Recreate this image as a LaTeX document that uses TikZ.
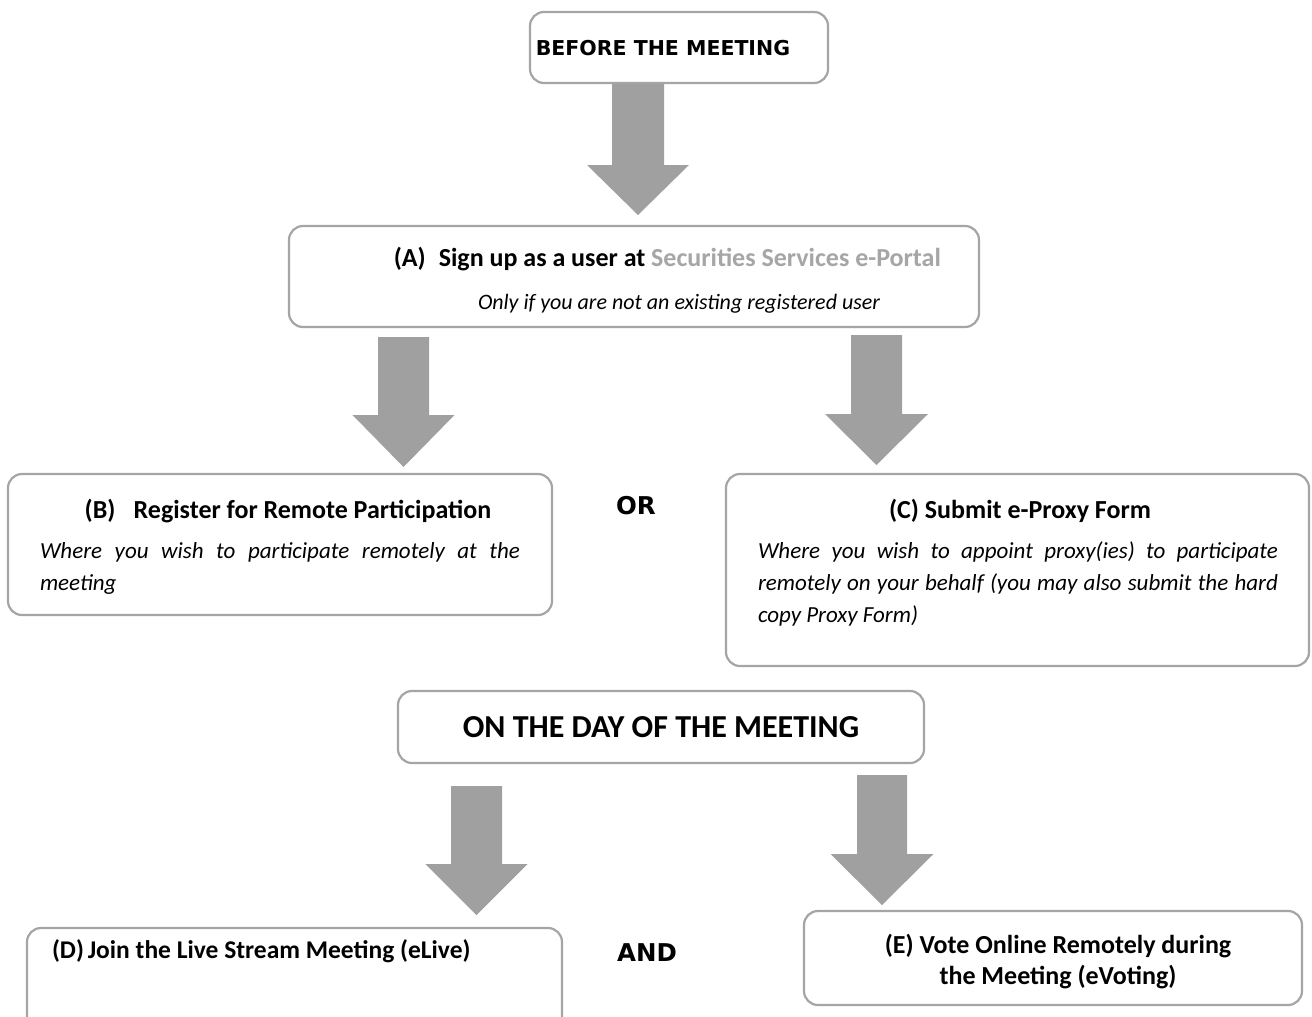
\documentclass[tikz,border=0pt]{standalone}
\usepackage{fontspec}
\setmainfont{Carlito}
\newfontfamily\verd{DejaVu Sans}
\definecolor{boxgray}{HTML}{A5A5A5}
\definecolor{arrgray}{HTML}{A0A0A0}
\definecolor{linkgray}{HTML}{A6A6A6}
\newcommand\myarrow[6]{% cx, ytop, yhead, ytip, shaft half, head half
  \fill[arrgray] (#1-#5,#2) -- (#1+#5,#2) -- (#1+#5,#3) -- (#1+#6,#3) -- (#1,#4) -- (#1-#6,#3) -- (#1-#5,#3) -- cycle;}
\tikzset{
  box/.style={draw=boxgray, line width=2.2pt, rounded corners=14pt, fill=white, inner sep=0pt, outer sep=0pt},
  txt/.style={inner sep=0pt, outer sep=0pt},
  ttl/.style={txt, font=\bfseries\fontsize{26}{31}\selectfont},
  itl/.style={txt, font=\itshape\fontsize{23}{32}\selectfont, align=justify},
  hdr/.style={txt, font=\verd\bfseries\fontsize{20.5}{24}\selectfont},
  conj/.style={txt, font=\verd\bfseries\fontsize{24.5}{28}\selectfont},
}
\begin{document}
\begin{tikzpicture}[x=1pt,y=-1pt]
\useasboundingbox (0,0) rectangle (1312,1017);
\clip (0,0) rectangle (1312,1017);
\fill[white] (0,0) rectangle (1312,1017);
% boxes
\node[box, minimum width=298pt, minimum height=71pt] (top) at (679,47.5) {};
\node[box, minimum width=690pt, minimum height=101pt] (A) at (634,276.5) {};
\node[box, minimum width=544pt, minimum height=141pt] (B) at (280,544.5) {};
\node[box, minimum width=583pt, minimum height=192pt] (C) at (1017.5,570) {};
\node[box, minimum width=526pt, minimum height=72pt] (day) at (661,727) {};
\node[box, minimum width=535pt, minimum height=112pt] (D) at (294.5,984) {};
\node[box, minimum width=498pt, minimum height=94pt] (E) at (1053,958) {};
% arrows
\myarrow{638}{84}{165}{215}{26}{51}
\myarrow{403.5}{337}{415}{467}{25.5}{51}
\myarrow{876.5}{335}{414}{465}{25.5}{51.5}
\myarrow{476.5}{786}{864}{915}{25.5}{51}
\myarrow{882}{775}{854}{905}{25}{51.5}
% texts
\node[hdr, anchor=base] (ttop) at (663,55) {BEFORE THE MEETING};
\node[ttl, anchor=base east] (tA) at (941,266) {(A)\hspace{0.5em}Sign up as a user at \textcolor{linkgray}{Securities Services e-Portal}};
\node[txt, font=\itshape\fontsize{22}{32}\selectfont, anchor=base] (sA) at (679,309) {Only if you are not an existing registered user};
\node[ttl, anchor=base] (tB) at (288,518) {(B)\hspace{0.7em}Register for Remote Participation};
\node[itl, text width=480pt, anchor=base west] (sB) at (40,558) {Where you wish to participate remotely at the\linebreak meeting};
\node[conj, anchor=base] (or) at (636,514) {OR};
\node[ttl, anchor=base] (tC) at (1020,518) {(C) Submit e-Proxy Form};
\node[itl, text width=520pt, anchor=base west] (sC) at (758,558) {Where you wish to appoint proxy(ies) to participate\linebreak remotely on your behalf (you may also submit the hard\linebreak copy Proxy Form)};
\node[txt, font=\bfseries\fontsize{32}{36}\selectfont, anchor=base] (tday) at (661,737) {ON THE DAY OF THE MEETING};
\node[txt, font=\bfseries\fontsize{25.5}{31}\selectfont, anchor=base west] (tD) at (52,958) {(D)\hspace{0.15em}Join the Live Stream Meeting (eLive)};
\node[conj, anchor=base] (and) at (647,961) {AND};
\node[ttl, align=center, anchor=base] (tE) at (1058,984) {(E) Vote Online Remotely during\\the Meeting (eVoting)};
\end{tikzpicture}
\end{document}
